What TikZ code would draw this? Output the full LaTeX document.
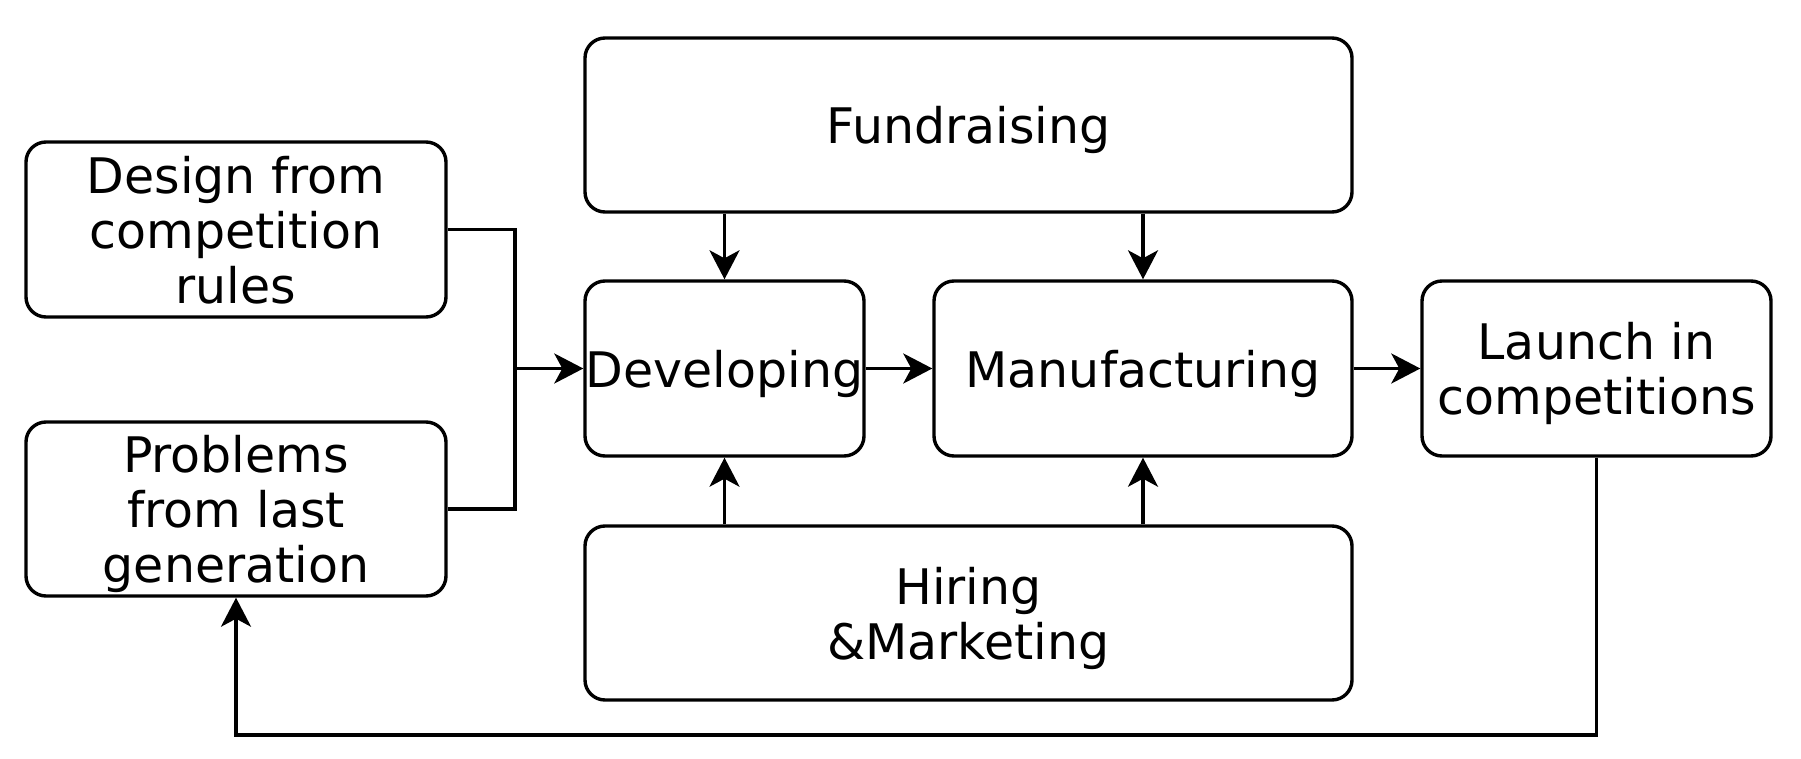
\documentclass[tikz,border=0pt]{standalone}
\usepackage{fontspec}
\setmainfont{DejaVu Sans}
\usetikzlibrary{calc,positioning,arrows.meta}
\tikzset{
  stage box/.style={
    draw,
    line width=3.4pt,
    rounded corners=20pt,
    align=center,
    inner sep=0pt,
    text depth=0pt,
    font=\fontsize{49}{55}\selectfont
  },
  flow/.style={
    line width=3.4pt,
    -{Stealth[length=29pt,width=30pt,inset=8pt]}
  },
  plain flow/.style={line width=3.4pt}
}

\begin{document}
\begin{tikzpicture}[x=1pt,y=-1pt]
  \useasboundingbox (0,0) rectangle (1801,759);

  \node (design) [stage box, minimum width=420pt, minimum height=175pt] at (236,229.5) {Design from\\competition\\rules};
  \node (problems) [stage box, minimum width=420pt, minimum height=174pt] at (236,509) {Problems\\from last\\generation};

  \node (fundraising) [stage box, minimum width=767pt, minimum height=174pt] at (968.5,125) {Fundraising};
  \node (developing) [stage box, minimum width=279pt, minimum height=175pt] at (724.5,368.5) {Developing};
  \node (manufacturing) [stage box, minimum width=418pt, minimum height=175pt] at (1143,368.5) {Manufacturing};
  \node (launch) [stage box, minimum width=349pt, minimum height=175pt] at (1596.5,368.5) {Launch in\\competitions};
  \node (hiring) [stage box, minimum width=767pt, minimum height=174pt] at (968.5,613) {Hiring\\\&Marketing};

  % inputs merging into development
  \coordinate (merge_point) at (515,368.5);
  \draw[plain flow] (design.east) -| (merge_point) |- (problems.east);
  \draw[flow] (merge_point) -- (developing.west);

  % supporting tasks
  \draw[flow] (fundraising.south -| developing) -- (developing.north);
  \draw[flow] (fundraising.south -| manufacturing) -- (manufacturing.north);
  \draw[flow] (hiring.north -| developing) -- (developing.south);
  \draw[flow] (hiring.north -| manufacturing) -- (manufacturing.south);

  % main chain
  \draw[flow] (developing.east) -- (manufacturing.west);
  \draw[flow] (manufacturing.east) -- (launch.west);

  % feedback to next generation
  \coordinate (return_level) at (0,735);
  \draw[flow] (launch.south) |- (return_level -| problems) -- (problems.south);
\end{tikzpicture}
\end{document}
